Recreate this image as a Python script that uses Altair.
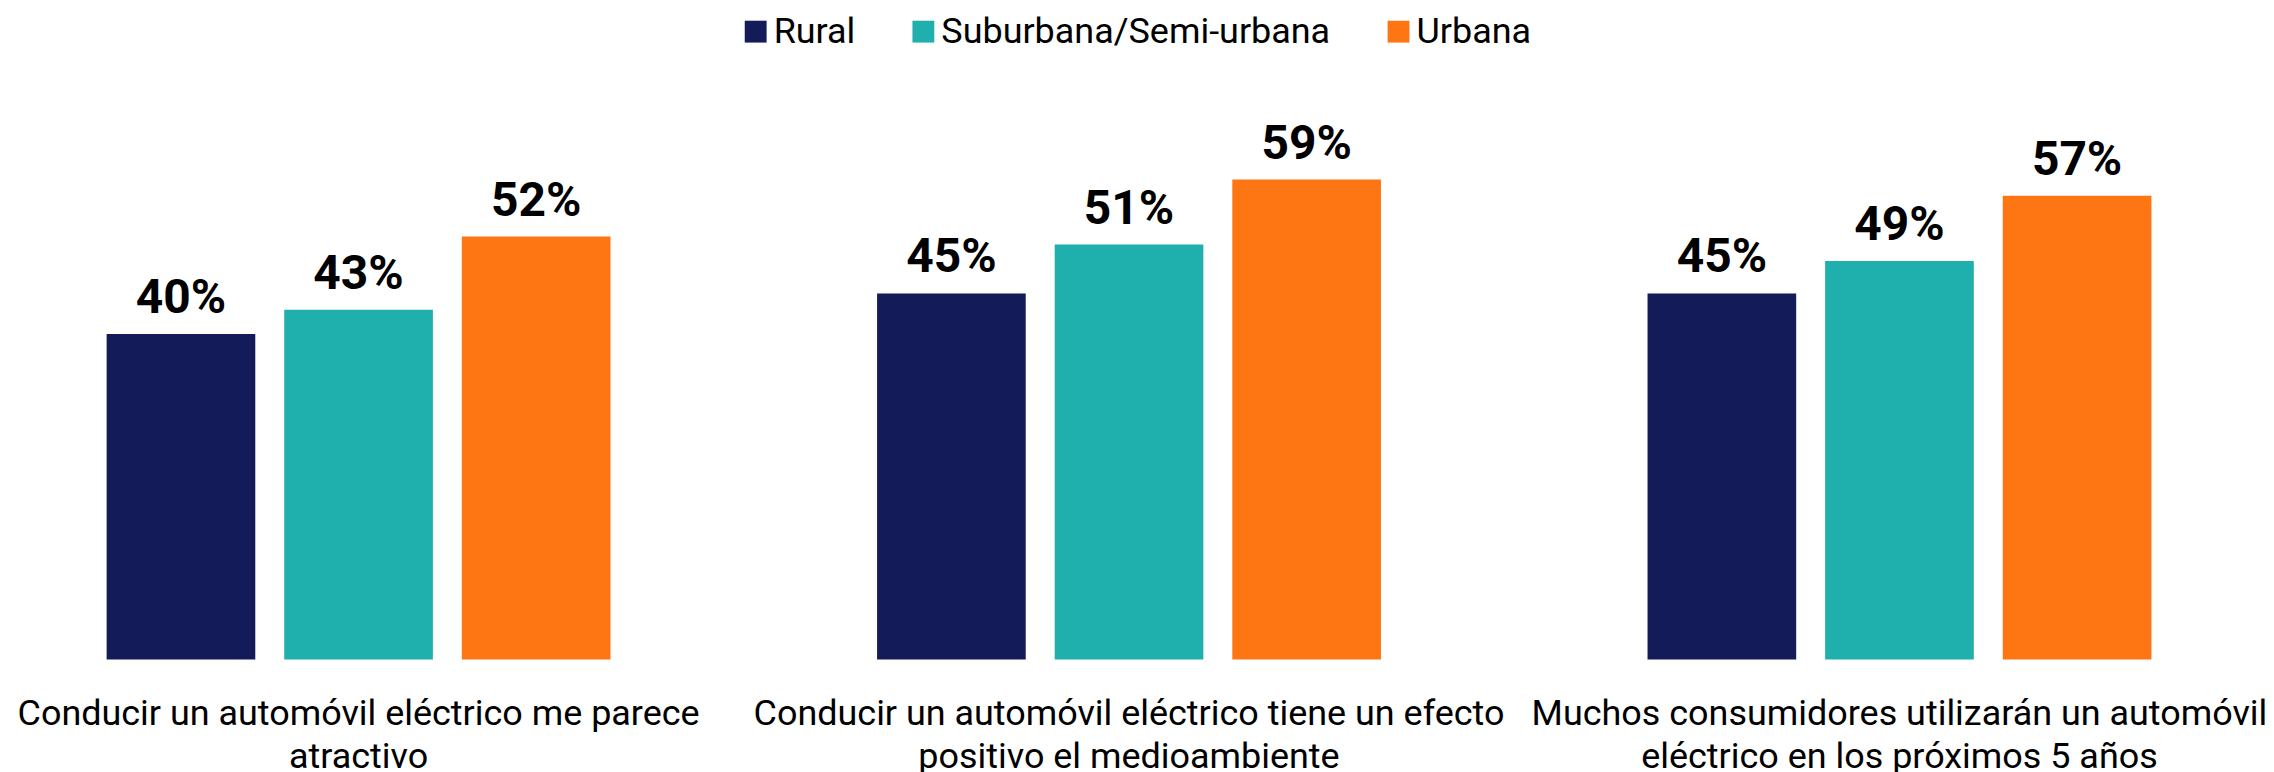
import altair as alt
import pandas as pd

categories = [
    "Conducir un automóvil eléctrico me parece|atractivo",
    "Conducir un automóvil eléctrico tiene un efecto|positivo el medioambiente",
    "Muchos consumidores utilizarán un automóvil|eléctrico en los próximos 5 años",
]
groups = ["Rural", "Suburbana/Semi-urbana", "Urbana"]
rural = [40, 45, 45]
suburbana = [43, 51, 49]
urbana = [52, 59, 57]
colors = ["#131b58", "#1fb0ae", "#fe7613"]

rows = []
for i, c in enumerate(categories):
    for g, vals in zip(groups, [rural, suburbana, urbana]):
        rows.append({"categoria": c, "zona": g, "valor": vals[i], "etiqueta": f"{vals[i]}%"})
df = pd.DataFrame(rows)

base = alt.Chart(df).encode(
    x=alt.X(
        "categoria:N",
        sort=categories,
        scale=alt.Scale(paddingInner=0.346, paddingOuter=0.128),
        axis=alt.Axis(
            title=None, labelAngle=0, domain=False, ticks=False,
            labelExpr="split(datum.label, '|')",
            labelFont="Roboto", labelFontSize=36, labelColor="black",
            labelPadding=37, labelLineHeight=43, labelBaseline="top",
            labelLimit=0, labelOverlap=False,
        ),
    ),
    xOffset=alt.XOffset("zona:N", sort=groups, scale=alt.Scale(paddingInner=0.163, paddingOuter=0)),
    y=alt.Y("valor:Q", scale=alt.Scale(domain=[0, 80]), axis=None),
)

bars = base.mark_bar().encode(
    color=alt.Color(
        "zona:N", sort=groups,
        scale=alt.Scale(domain=groups, range=colors),
        legend=alt.Legend(
            title=None, orient="none", legendX=731, legendY=5, direction="horizontal",
            symbolType="square", symbolSize=480, symbolStrokeWidth=0,
            labelFont="Roboto", labelFontSize=36, labelColor="black",
            labelOffset=0, columnPadding=50, padding=0, labelLimit=0,
        ),
    )
)

text = base.mark_text(
    baseline="alphabetic", dy=-21, font="Roboto", fontSize=48,
    fontWeight="bold", color="black",
).encode(text="etiqueta:N")

chart = (bars + text).properties(
    width=2246, height=652,
    autosize=alt.AutoSizeParams(type="none"),
    padding={"left": 0, "top": 0, "right": 16, "bottom": 122},
).configure_view(stroke=None)

chart.save("out.html", embed_options={"renderer": "svg", "actions": False})
